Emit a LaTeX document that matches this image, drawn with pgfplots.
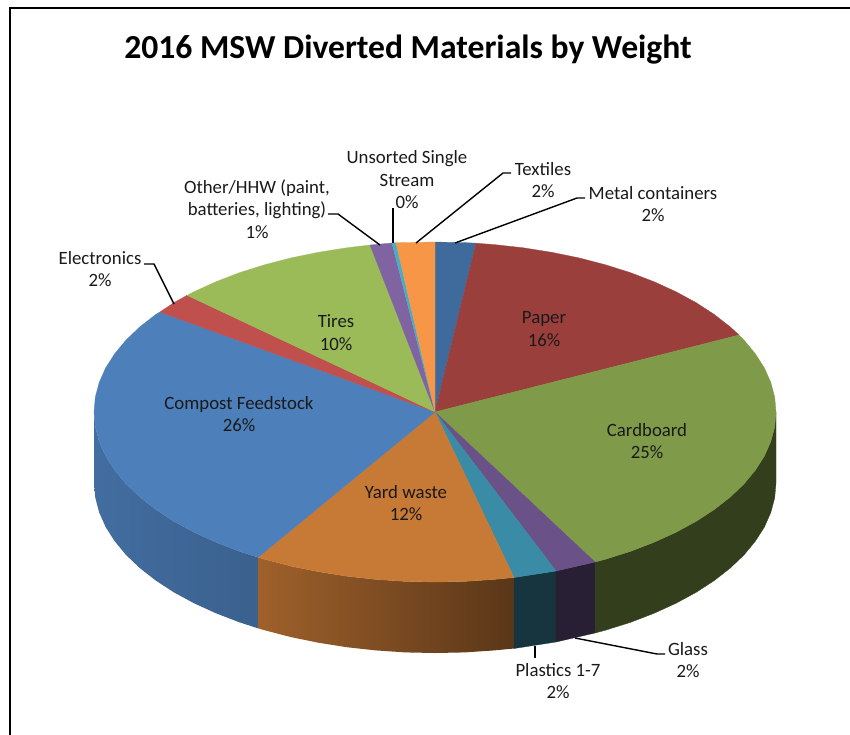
\documentclass[border=0pt]{standalone}
\usepackage{fontspec}
\setmainfont{Carlito}
\usepackage{pgfplots}
\pgfplotsset{compat=1.18}
\definecolor{metal}{HTML}{3E6A9C}
\definecolor{paper}{HTML}{9B3F3C}
\definecolor{cardb}{HTML}{7F9A49}
\definecolor{glass}{HTML}{6A5288}
\definecolor{plast}{HTML}{3A8CA6}
\definecolor{yard}{HTML}{C77936}
\definecolor{compost}{HTML}{4D7FBA}
\definecolor{electr}{HTML}{C0504D}
\definecolor{tires}{HTML}{9BBB59}
\definecolor{other}{HTML}{8064A2}
\definecolor{unsort}{HTML}{4BACC6}
\definecolor{textil}{HTML}{F79646}
\definecolor{labeltxt}{HTML}{1A1A1A}
\pgfplotsset{
  wedge/.style={fill=#1, draw=#1, line width=0.3pt},
  leader/.style={black, line width=1.4pt},
}
\tikzset{lab/.style={font=\fontsize{18.8}{22.5}\selectfont, align=center, text=labeltxt, inner sep=0pt}}

\begin{document}
\begin{tikzpicture}
\useasboundingbox (0,0) rectangle (850pt,734pt);
\begin{axis}[
  at={(0,0)}, anchor=south west,
  hide axis, scale only axis, width=850pt, height=734pt,
  xmin=0, xmax=850, ymin=0, ymax=734, y dir=reverse, clip=true,
]
% frame
\addplot[black, line width=1.5pt] coordinates {(10,740) (10,8) (860,8)};

% side walls
\addplot[draw=none, shading=axis, left color=compost!86!black, right color=compost!76!black] coordinates {
  (94,412) (95.3,426.8) (99.2,441.5) (105.6,456) (114.6,470.1) (125.9,483.8) (139.7,497) (155.7,509.5) (173.8,521.3) (193.9,532.2) (215.8,542.2) (239.4,551.3) (258,557.3)
  (258,628.3) (239.4,622.3) (215.8,613.2) (193.9,603.2) (173.8,592.3) (155.7,580.5) (139.7,568) (125.9,554.8) (114.6,541.1) (105.6,527) (99.2,512.5) (95.3,497.8) (94,483)} --cycle;
\addplot[draw=none, shading=axis, left color=yard!80!black, right color=yard!45!black] coordinates {
  (258,557.3) (264.5,559.2) (290.9,566.1) (318.4,571.7) (346.7,576.2) (375.8,579.4) (405.3,581.4) (435,582) (464.7,581.4) (494.2,579.4) (514,577.5)
  (514,648.5) (494.2,650.4) (464.7,652.4) (435,653) (405.3,652.4) (375.8,650.4) (346.7,647.2) (318.4,642.7) (290.9,637.1) (264.5,630.2) (258,628.3)} --cycle;
\addplot[wedge=plast!38!black] coordinates {
  (514,577.5) (556,571) (556,642) (514,648.5)} --cycle;
\addplot[wedge=glass!38!black] coordinates {
  (556,571) (595,562) (595,633) (556,642)} --cycle;
\addplot[wedge=cardb!40!black] coordinates {
  (595,562) (605.5,559.2) (630.6,551.3) (654.2,542.2) (676.1,532.2) (696.2,521.3) (714.3,509.5) (730.3,497) (744.1,483.8) (755.4,470.1) (764.4,456) (770.8,441.5) (774.7,426.8) (776,412)
  (776,483) (774.7,497.8) (770.8,512.5) (764.4,527) (755.4,541.1) (744.1,554.8) (730.3,568) (714.3,580.5) (696.2,592.3) (676.1,603.2) (654.2,613.2) (630.6,622.3) (605.5,630.2) (595,633)} --cycle;

% top face
\addplot[wedge=metal] coordinates {(435,412) (435,242) (464.7,242.6) (476,243.2)} --cycle;
\addplot[wedge=paper] coordinates {(435,412) (476,243.2) (494.2,244.6) (523.3,247.8) (551.6,252.3) (579.1,257.9) (605.5,264.8) (630.6,272.7) (654.2,281.8) (676.1,291.8) (696.2,302.7) (714.3,314.5) (730.3,327) (739,335)} --cycle;
\addplot[wedge=cardb] coordinates {(435,412) (739,335) (744.1,340.2) (755.4,353.9) (764.4,368) (770.8,382.5) (774.7,397.2) (776,412) (774.7,426.8) (770.8,441.5) (764.4,456) (755.4,470.1) (744.1,483.8) (730.3,497) (714.3,509.5) (696.2,521.3) (676.1,532.2) (654.2,542.2) (630.6,551.3) (605.5,559.2) (595,562)} --cycle;
\addplot[wedge=glass] coordinates {(435,412) (595,562) (556,571)} --cycle;
\addplot[wedge=plast] coordinates {(435,412) (556,571) (514,577.5)} --cycle;
\addplot[wedge=yard] coordinates {(435,412) (514,577.5) (494.2,579.4) (464.7,581.4) (435,582) (405.3,581.4) (375.8,579.4) (346.7,576.2) (318.4,571.7) (290.9,566.1) (264.5,559.2) (258,557.3)} --cycle;
\addplot[wedge=compost] coordinates {(435,412) (258,557.3) (239.4,551.3) (215.8,542.2) (193.9,532.2) (173.8,521.3) (155.7,509.5) (139.7,497) (125.9,483.8) (114.6,470.1) (105.6,456) (99.2,441.5) (95.3,426.8) (94,412) (95.3,397.2) (99.2,382.5) (105.6,368) (114.6,353.9) (125.9,340.2) (139.7,327) (155.7,314.5) (160,312)} --cycle;
\addplot[wedge=electr] coordinates {(435,412) (160,312) (173.8,302.7) (187,295.3)} --cycle;
\addplot[wedge=tires] coordinates {(435,412) (187,295.3) (193.9,291.8) (215.8,281.8) (239.4,272.7) (264.5,264.8) (290.9,257.9) (318.4,252.3) (346.7,247.8) (370,245)} --cycle;
\addplot[wedge=other] coordinates {(435,412) (370,245) (392,243)} --cycle;
\addplot[wedge=unsort] coordinates {(435,412) (392,243) (396,242.7)} --cycle;
\addplot[wedge=textil] coordinates {(435,412) (396,242.7) (405.3,242.6) (435,242)} --cycle;

% leader lines
\addplot[leader] coordinates {(144,264) (154,264) (174,304)};
\addplot[leader] coordinates {(328,214) (338,214) (380,245)};
\addplot[leader] coordinates {(393,208) (393,243)};
\addplot[leader] coordinates {(511,173) (503,173) (416,243)};
\addplot[leader] coordinates {(585,198) (577,198) (455,243)};
\addplot[leader] coordinates {(665,654) (657,654) (575,638)};
\addplot[leader] coordinates {(535,646) (535,658)};

% text
\node[font=\fontsize{33.6}{40}\selectfont\bfseries, inner sep=0pt] at (axis cs:408,50) {2016 MSW Diverted Materials by Weight};
\node[lab] at (axis cs:407,180) {Unsorted Single\\Stream\\0\%};
\node[lab] at (axis cs:543,180) {Textiles\\2\%};
\node[lab] at (axis cs:653,204) {Metal containers\\2\%};
\node[lab] at (axis cs:257,209) {Other/HHW (paint,\\batteries, lighting)\\1\%};
\node[lab] at (axis cs:100,269) {Electronics\\2\%};
\node[lab] at (axis cs:336,332.5) {Tires\\10\%};
\node[lab] at (axis cs:544,329) {Paper\\16\%};
\node[lab] at (axis cs:647,441) {Cardboard\\25\%};
\node[lab] at (axis cs:239,414) {Compost Feedstock\\26\%};
\node[lab] at (axis cs:406,503) {Yard waste\\12\%};
\node[lab] at (axis cs:558,681) {Plastics 1-7\\2\%};
\node[lab] at (axis cs:688,660) {Glass\\2\%};
\end{axis}
\end{tikzpicture}
\end{document}
